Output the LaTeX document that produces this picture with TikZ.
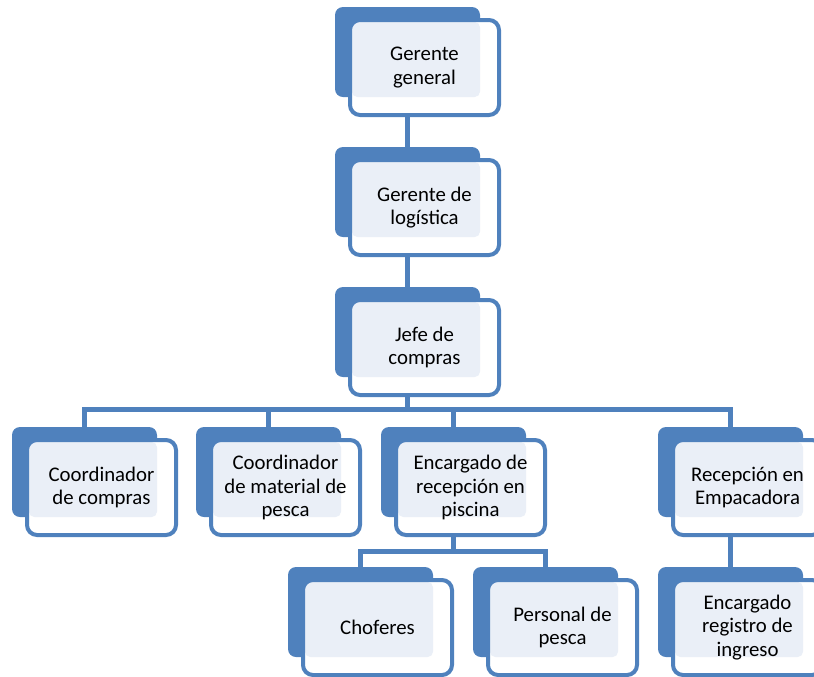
\documentclass[tikz,border=0pt]{standalone}
\usepackage{fontspec}
\setmainfont{Carlito}
\usetikzlibrary{backgrounds}
\definecolor{boxblue}{HTML}{4F81BD}
\definecolor{boxlight}{HTML}{EAEFF7}

\begin{document}
\begin{tikzpicture}[x=0.75pt,y=-0.75pt,
    back/.style={fill=boxblue, rounded corners=6pt, inner sep=0pt,
      minimum width=108.75pt, minimum height=67.5pt},
    front/.style={draw=boxblue, line width=3pt, fill=white, rounded corners=7.5pt,
      inner sep=0pt, minimum width=111.75pt, minimum height=71.25pt, align=center,
      font=\fontsize{15.6}{17.5}\selectfont,
      path picture={\fill[boxlight, rounded corners=4pt]
        ([shift={(1.5pt,-1.5pt)}]path picture bounding box.north west) rectangle
        ([shift={(-14.25pt,13.5pt)}]path picture bounding box.south east);}},
    link/.style={draw=boxblue, line width=3.4pt}]
    \useasboundingbox (0,0) rectangle (814,676);
    \clip (0,0) rectangle (814,676);

    % top of the chart
    \node[back] (gerente) at (407.5,52) {};
    \node[front] (gerente-txt) at (424.5,67.5) {Gerente\\general};
    \node[back] (logistica) at (407.5,192) {};
    \node[front] (logistica-txt) at (424.5,207.5) {Gerente de\\logística};
    \node[back] (jefe) at (407.5,332) {};
    \node[front] (jefe-txt) at (424.5,347.5) {Jefe de\\compras};

    % second row
    \node[back] (coordcompras) at (84.5,472) {};
    \node[front] (coordcompras-txt) at (101.5,487.5) {Coordinador\\de compras};
    \node[back] (coordmaterial) at (268.5,472) {};
    \node[front] (coordmaterial-txt) at (285.5,487.5) {Coordinador\\de material de\\pesca};
    \node[back] (piscina) at (453.5,472) {};
    \node[front] (piscina-txt) at (470.5,487.5) {Encargado de\\recepción en\\piscina};
    \node[back] (empacadora) at (730.5,472) {};
    \node[front] (empacadora-txt) at (747.5,487.5) {Recepción en\\Empacadora};

    % third row
    \node[back] (choferes) at (360.5,612) {};
    \node[front] (choferes-txt) at (377.5,627.5) {Choferes};
    \node[back] (personal) at (545.5,612) {};
    \node[front] (personal-txt) at (562.5,627.5) {Personal de\\pesca};
    \node[back] (registro) at (730.5,612) {};
    \node[front] (registro-txt) at (747.5,627.5) {Encargado\\registro de\\ingreso};

    \begin{scope}[on background layer]
        \draw[link] (gerente.south) -- (logistica.north);
        \draw[link] (logistica.south) -- (jefe.north);
        \draw[link] (jefe.south) -- ++(0,32) coordinate (bar1);
        \foreach \n in {coordcompras,coordmaterial,piscina,empacadora}
            \draw[link] (bar1) -| (\n.north);
        \draw[link] (piscina.south) -- ++(0,34) coordinate (bar2);
        \foreach \n in {choferes,personal}
            \draw[link] (bar2) -| (\n.north);
        \draw[link] (empacadora.south) -- (registro.north);
    \end{scope}
\end{tikzpicture}
\end{document}
